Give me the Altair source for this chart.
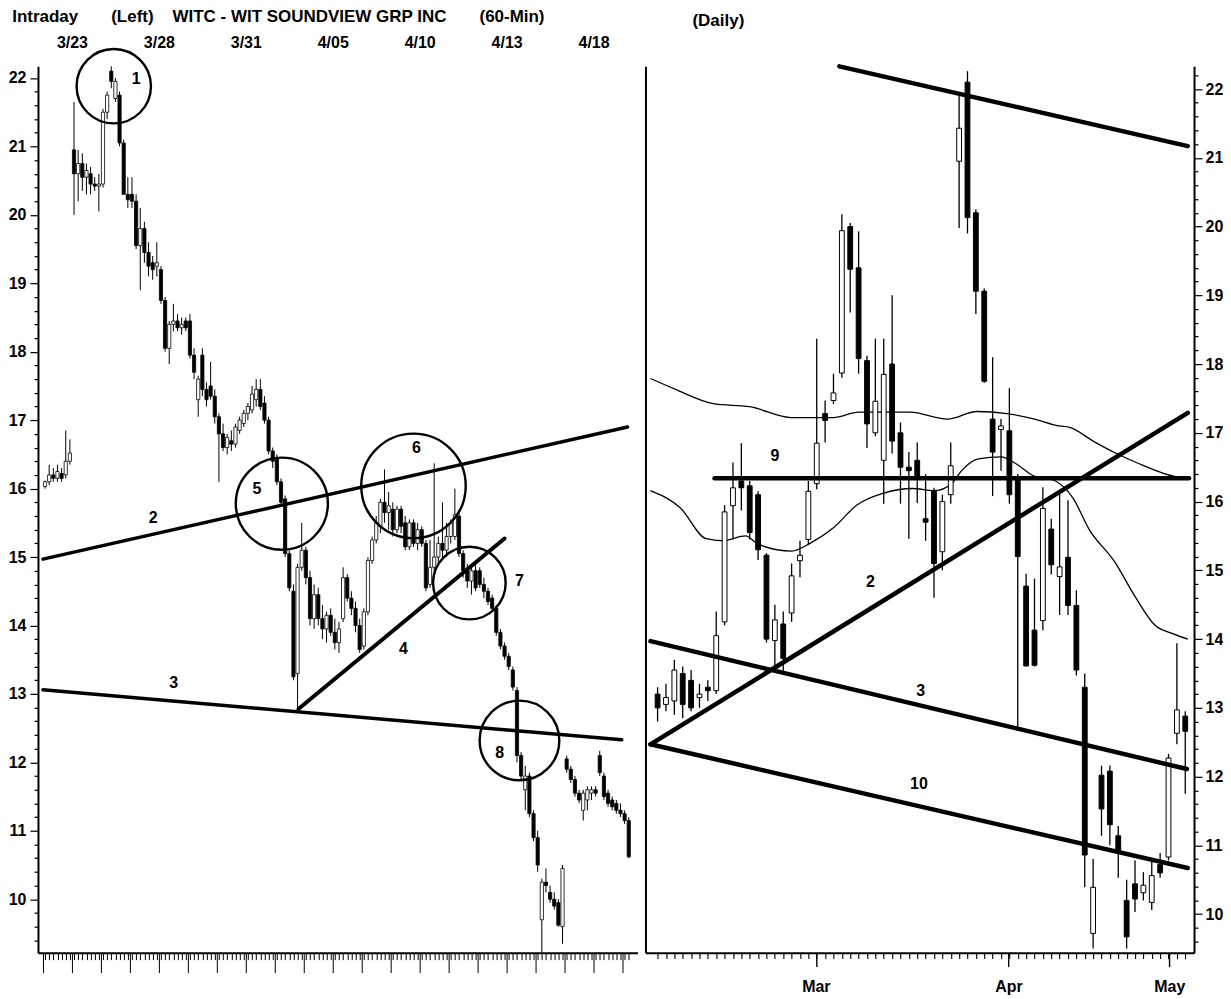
import altair as alt
import pandas as pd

FONT = "Liberation Sans"
NB = "\u00a0"

# ---------------- LEFT PANEL: WITC 60-minute candles (bar index) ----------------
L_OPEN = [16.03, 16.1, 16.2, 16.15, 16.22, 16.2, 16.4,
          20.95, 20.6, 20.75, 20.55, 20.6, 20.45, 20.42,
          20.45, 21.5, 22.1, 21.7, 21.75, 21.05, 20.3,
          20.3, 20.2, 19.55, 19.8, 19.45, 19.3, 19.25,
          19.2, 18.75, 18.05, 18.4, 18.45, 18.35, 18.45,
          18.45, 17.95, 17.3, 17.95, 17.45, 17.5, 17.35,
          17.05, 16.8, 16.6, 16.7, 16.65, 16.85, 16.95,
          17.1, 17.15, 17.3, 17.45, 17.25, 17.0, 16.55,
          16.45, 16.1, 15.85, 15.05, 14.5, 13.3, 14.85,
          15.1, 14.7, 14.1, 14.45, 14.1, 13.95, 14.15,
          13.9, 13.75, 14.1, 14.7, 14.4, 14.25, 14.0,
          13.7, 14.2, 14.95, 15.25, 15.45, 15.8, 15.65,
          15.7, 15.4, 15.7, 15.5, 15.15, 15.5, 15.2,
          15.4, 15.2, 14.6, 14.85, 15.0, 15.2, 15.1,
          15.3, 15.3, 15.6, 15.05, 14.8, 14.65, 14.8,
          14.8, 14.6, 14.5, 14.4, 14.25, 13.9, 13.7,
          13.55, 13.35, 13.05, 12.1, 11.6, 11.8, 11.25,
          10.9, 9.7, 10.25, 10.1, 10.0, 9.95, 9.6,
          12.05, 11.9, 11.75, 11.55, 11.3, 11.45, 11.55,
          11.6, 12.1, 11.8, 11.55, 11.45, 11.4, 11.3,
          11.25, 11.15]
L_HIGH = [16.12, 16.35, 16.3, 16.35, 16.3, 16.85, 16.72,
          21.65, 20.95, 20.9, 20.75, 20.7, 20.55, 20.6,
          21.55, 21.8, 22.17, 22.0, 21.8, 21.1, 20.55,
          20.55, 20.3, 20.1, 19.9, 19.6, 19.4, 19.6,
          19.25, 18.8, 18.45, 18.7, 18.55, 18.5, 18.5,
          18.55, 18.05, 17.65, 18.05, 17.55, 17.85, 17.45,
          17.1, 16.95, 16.8, 16.85, 16.95, 17.05, 17.15,
          17.25, 17.5, 17.6, 17.6, 17.35, 17.05, 16.6,
          16.5, 16.15, 15.9, 15.1, 14.6, 14.9, 15.5,
          15.15, 14.8, 14.6, 14.55, 14.3, 14.2, 14.25,
          14.1, 14.05, 14.85, 14.75, 14.5, 14.35, 14.1,
          14.25, 15.0, 15.3, 15.6, 15.85, 16.28, 15.95,
          15.8, 15.75, 15.75, 15.6, 15.55, 15.55, 15.5,
          15.45, 15.25, 15.25, 16.37, 15.3, 15.8, 15.5,
          15.55, 16.0, 15.65, 15.1, 14.9, 14.85, 14.9,
          14.85, 14.7, 14.55, 14.45, 14.3, 13.95, 13.75,
          13.6, 13.4, 13.1, 12.15, 11.95, 11.85, 11.3,
          11.0, 10.3, 10.45, 10.2, 10.1, 10.0, 10.5,
          12.1, 11.95, 11.8, 11.6, 11.6, 11.65, 11.65,
          11.65, 12.17, 11.85, 11.6, 11.5, 11.45, 11.4,
          11.3, 11.2]
L_LOW = [16.0, 16.05, 16.1, 16.1, 16.1, 16.15, 16.35,
         20.0, 20.2, 20.35, 20.3, 20.3, 20.35, 20.05,
         20.4, 21.4, 21.85, 21.65, 21.0, 20.3, 20.1,
         20.1, 19.5, 18.9, 19.3, 19.1, 19.05, 19.1,
         18.7, 18.0, 17.82, 18.3, 18.3, 18.25, 18.3,
         17.9, 17.6, 17.05, 17.35, 17.2, 17.3, 16.95,
         16.1, 16.55, 16.5, 16.55, 16.6, 16.8, 16.9,
         17.0, 17.1, 17.2, 17.15, 16.95, 16.5, 16.3,
         16.05, 15.75, 15.0, 14.5, 13.2, 12.78, 14.8,
         14.6, 14.0, 13.95, 14.0, 13.8, 13.75, 13.85,
         13.65, 13.6, 14.05, 14.35, 14.15, 13.9, 13.6,
         13.65, 14.15, 14.9, 15.2, 15.35, 15.5, 15.4,
         15.3, 15.35, 15.35, 15.1, 15.1, 15.15, 15.1,
         15.15, 14.5, 14.55, 14.8, 14.9, 15.0, 15.0,
         15.2, 15.25, 15.0, 14.7, 14.55, 14.45, 14.5,
         14.55, 14.4, 14.3, 14.2, 13.85, 13.65, 13.5,
         13.35, 13.05, 12.0, 11.75, 11.3, 11.2, 10.85,
         10.4, 9.22, 10.1, 9.95, 9.85, 9.6, 9.35,
         11.85, 11.7, 11.5, 11.4, 11.15, 11.3, 11.45,
         11.5, 11.8, 11.45, 11.35, 11.3, 11.25, 11.2,
         11.1, 10.6]
L_CLOSE = [16.1, 16.2, 16.15, 16.25, 16.15, 16.4, 16.52,
           20.6, 20.75, 20.55, 20.65, 20.45, 20.42, 20.45,
           21.5, 21.75, 21.95, 21.95, 21.05, 20.3, 20.22,
           20.2, 19.55, 19.8, 19.45, 19.25, 19.2, 19.3,
           18.75, 18.05, 18.4, 18.45, 18.35, 18.4, 18.35,
           17.95, 17.7, 17.6, 17.45, 17.3, 17.35, 17.05,
           16.8, 16.6, 16.75, 16.65, 16.9, 17.0, 17.1,
           17.2, 17.38, 17.45, 17.2, 17.0, 16.55, 16.4,
           16.1, 15.8, 15.05, 14.55, 13.25, 14.85, 15.1,
           14.7, 14.1, 14.45, 14.1, 13.95, 14.15, 13.9,
           13.75, 13.95, 14.7, 14.4, 14.25, 14.0, 13.65,
           14.2, 14.95, 15.25, 15.5, 15.8, 15.65, 15.75,
           15.4, 15.7, 15.45, 15.15, 15.5, 15.2, 15.4,
           15.2, 14.55, 14.85, 15.0, 15.2, 15.1, 15.3,
           15.5, 15.62, 15.05, 14.8, 14.65, 14.8, 14.55,
           14.6, 14.5, 14.35, 14.25, 13.9, 13.7, 13.55,
           13.4, 13.1, 12.1, 11.8, 11.8, 11.25, 10.9,
           10.5, 10.25, 10.2, 10.0, 9.9, 9.62, 10.45,
           11.9, 11.75, 11.55, 11.45, 11.55, 11.6, 11.6,
           11.55, 11.85, 11.5, 11.4, 11.35, 11.3, 11.25,
           11.15, 10.62]

# top-axis date labels, placed at day boundaries (bar index)
L_DAY_TICKS = [6.5, 27.5, 48.5, 69.5, 90.5, 111.5, 132.5]
L_DAY_LABELS = ["3/23", "3/28", "3/31", "4/05", "4/10", "4/13", "4/18"]

# trendlines (bar index, price)
L_LINE_ID = ["2", "2", "3", "3", "4", "4"]
L_LINE_X = [-0.5, 140.7, -0.5, 139.3, 61.2, 111.0]
L_LINE_Y = [14.97, 16.9, 13.06, 12.33, 12.78, 15.27]

# annotation circles (centre in bar index / price)
L_CIRCLE_X = [16.6, 57.2, 89.0, 102.5, 114.6]
L_CIRCLE_Y = [21.88, 15.78, 16.04, 14.62, 12.32]

L_LABEL_TEXT = ["1", "2", "3", "4", "5", "6", "7", "8"]
L_LABEL_X = [22.0, 26.1, 31.1, 86.6, 51.2, 89.7, 114.6, 109.8]
L_LABEL_Y = [21.98, 15.57, 13.16, 13.66, 16.0, 16.6, 14.65, 12.13]

# ---------------- RIGHT PANEL: daily candles (trading-day index) ----------------
R_OPEN = [13.2, 13.05, 13.1, 13.5, 13.4, 13.15, 13.3, 13.25, 14.25, 15.94,
          16.3, 16.23, 16.1, 15.22, 13.98, 14.22, 14.38, 15.14, 15.45, 16.26,
          17.28, 17.47, 17.87, 20.0, 19.4, 18.05, 17.0, 16.6, 18.0, 17.0,
          16.5, 16.6, 15.75, 16.15, 15.27, 16.1, 20.95, 22.1, 20.2, 19.06,
          17.2, 17.05, 17.03, 16.35, 14.77, 14.13, 14.27, 15.6, 14.91, 15.19,
          14.49, 13.3, 9.72, 12.02, 12.08, 11.14, 10.2, 10.44, 10.31, 10.17,
          10.72, 10.83, 12.63, 12.88]
R_HIGH = [13.3, 13.35, 13.7, 13.6, 13.55, 13.35, 13.4, 14.4, 15.95, 16.57,
          16.85, 16.3, 16.15, 15.25, 14.5, 14.4, 15.1, 15.43, 16.3, 18.37,
          17.47, 17.86, 20.18, 20.05, 19.93, 18.12, 18.37, 18.37, 19.0, 17.15,
          16.72, 16.86, 16.4, 16.2, 16.1, 16.86, 21.95, 22.26, 20.25, 19.1,
          18.1, 17.2, 17.65, 16.4, 14.95, 14.88, 16.21, 15.75, 16.16, 16.02,
          14.71, 13.5, 10.8, 12.16, 12.16, 11.28, 10.5, 10.78, 10.61, 10.78,
          10.89, 12.33, 13.94, 12.95]
R_LOW = [12.8, 12.95, 12.9, 12.85, 12.95, 13.0, 13.1, 13.2, 14.2, 15.45,
         15.87, 15.45, 15.15, 13.95, 13.6, 13.5, 14.25, 14.9, 15.38, 16.18,
         16.86, 17.42, 17.8, 18.75, 17.86, 16.78, 16.95, 15.97, 16.7, 15.97,
         15.46, 15.98, 15.43, 14.6, 15.0, 15.97, 19.98, 19.9, 18.73, 17.73,
         16.08, 16.45, 15.97, 12.72, 13.6, 13.6, 14.13, 14.94, 14.35, 14.35,
         13.47, 10.39, 9.5, 11.14, 11.0, 10.53, 9.5, 10.03, 10.2, 10.06,
         10.53, 10.78, 12.47, 11.75]
R_CLOSE = [13.0, 13.15, 13.55, 13.05, 13.0, 13.2, 13.25, 14.05, 15.85, 16.2,
           16.2, 15.55, 15.3, 14.0, 14.28, 13.72, 14.92, 15.22, 16.15, 16.85,
           17.18, 17.58, 19.94, 19.38, 18.08, 17.13, 17.46, 17.85, 16.88, 16.5,
           16.45, 16.35, 15.7, 15.1, 16.0, 16.52, 21.43, 20.13, 19.06, 17.75,
           16.72, 17.1, 16.1, 15.2, 13.61, 13.62, 15.9, 15.08, 15.05, 14.49,
           13.55, 10.86, 10.39, 11.53, 11.3, 10.89, 9.67, 10.22, 10.42, 10.56,
           10.6, 12.27, 12.97, 12.66]

R_MONTH_TICKS = [18.9, 41.9, 61.1]
R_MONTH_LABELS = ["Mar", "Apr", "May"]

# moving averages (day index, price)
R_MA1_X = [-0.85, 2, 6.8, 11, 16, 21, 24, 30.1, 34.6, 38.1, 41.7, 45, 47.9, 49.2,
           52, 54.6, 57.5, 60.4, 63.3]
R_MA1_Y = [17.79, 17.64, 17.42, 17.38, 17.22, 17.22, 17.3, 17.3, 17.2, 17.31, 17.28,
           17.2, 17.1, 17.08, 16.88, 16.71, 16.55, 16.41, 16.32]
R_MA2_X = [-0.85, 2.7, 5.8, 7.8, 10.5, 12, 16, 18.3, 21, 23.8, 26.9, 30.4, 33.1,
           35.1, 36.3, 38.3, 41, 42.8, 44.8, 47.5, 49.6, 51.5, 54.6, 57, 59.4,
           61.5, 63.3]
R_MA2_Y = [16.16, 15.91, 15.46, 15.43, 15.5, 15.38, 15.28, 15.4, 15.62, 15.95,
           16.12, 16.19, 16.16, 16.26, 16.45, 16.62, 16.65, 16.55, 16.38, 16.3,
           16.05, 15.6, 15.12, 14.62, 14.2, 14.08, 14.0]

# trendlines (day index, price)
R_LINE_ID = ["top", "top", "2", "2", "3", "3", "10", "10", "9", "9"]
R_LINE_X = [21.7, 63.3, -0.85, 63.3, -0.85, 63.2, -0.85, 63.3, 6.8, 63.45]
R_LINE_Y = [22.33, 21.17, 12.47, 17.29, 13.97, 12.11, 12.47, 10.67, 16.34, 16.34]

R_LABEL_TEXT = ["9", "2", "3", "10"]
R_LABEL_X = [14.0, 25.4, 31.4, 31.2]
R_LABEL_Y = [16.66, 14.83, 13.25, 11.89]

# ---------------- styles ----------------
CIRCLE_RADIUS_PX = [42, 52, 59, 41, 45]
L_LINE_WIDTH = [3.5, 3.5, 3.5, 3.5, 4.0, 4.0]
L_W, R_W, H = 600, 549, 887

LX = alt.Scale(domain=[-0.5, 141.9], nice=False, zero=False)
LY = alt.Scale(domain=[9.22, 22.17], nice=False, zero=False)
RX = alt.Scale(domain=[-0.85, 63.45], nice=False, zero=False)
RY = alt.Scale(domain=[9.44, 22.33], nice=False, zero=False)

MAJOR = "abs(datum.value - round(datum.value)) < 0.01"

ly_vals = [round(9.4 + 0.2 * i, 1) for i in range(64)]
ry_vals = [round(9.6 + 0.2 * i, 1) for i in range(64)]
lx_vals = [float(i) for i in range(len(L_OPEN))] + [7 * d - 0.5 for d in range(0, 21)]
rx_vals = [float(i) for i in range(len(R_OPEN))]


def y_axis(vals, orient, pad):
    return alt.Axis(values=vals, orient=orient, title=None, grid=False,
                    tickSize={"condition": {"test": MAJOR, "value": 8}, "value": 4},
                    labelExpr=f"{MAJOR} ? format(datum.value, 'd') : ''",
                    labelFont=FONT, labelFontSize=16, labelFontWeight="bold", labelColor="black",
                    labelPadding=pad, labelOverlap=False, labelFlush=False,
                    domainColor="black", domainWidth=2, tickColor="black", tickWidth=1.2)


def lookup_expr(ticks, labels):
    return ("[" + ",".join(f"'{s}'" for s in labels) + "][indexof(["
            + ",".join(str(v) for v in ticks) + "], datum.value)]")


left_x_axis = alt.Axis(values=lx_vals, orient="bottom", title=None, grid=False, labels=False,
                       tickSize={"condition": {"test": "datum.value % 1 != 0", "value": 20}, "value": 7},
                       domainColor="black", domainWidth=2, tickColor="black", tickWidth=1)

top_axis = alt.Axis(values=L_DAY_TICKS, orient="top", title=None, grid=False, ticks=False,
                    tickSize=0, domain=False, labelExpr=lookup_expr(L_DAY_TICKS, L_DAY_LABELS),
                    labelFont=FONT, labelFontSize=16, labelFontWeight="bold", labelColor="black",
                    labelPadding=16, labelOverlap=False, labelFlush=False)

right_x_axis = alt.Axis(values=rx_vals, orient="bottom", title=None, grid=False, labels=False,
                        tickSize=6, domainColor="black", domainWidth=2, tickColor="black",
                        tickWidth=1.1)

month_axis = alt.Axis(values=R_MONTH_TICKS, orient="bottom", title=None, grid=False,
                      domain=False, tickSize=14, tickColor="black", tickWidth=1.4,
                      labelExpr=lookup_expr(R_MONTH_TICKS, R_MONTH_LABELS),
                      labelFont=FONT, labelFontSize=16, labelFontWeight="bold", labelColor="black",
                      labelPadding=12, labelOverlap=False, labelFlush=False)

# ---------------- data frames ----------------
left_df = pd.DataFrame({"bar": range(len(L_OPEN)), "open": L_OPEN, "high": L_HIGH,
                        "low": L_LOW, "close": L_CLOSE})
right_df = pd.DataFrame({"day": range(len(R_OPEN)), "open": R_OPEN, "high": R_HIGH,
                         "low": R_LOW, "close": R_CLOSE})
l_lines = pd.DataFrame({"id": L_LINE_ID, "x": L_LINE_X, "y": L_LINE_Y, "w": L_LINE_WIDTH})
l_circles = pd.DataFrame({"x": L_CIRCLE_X, "y": L_CIRCLE_Y,
                          "size": [3.14159 * r * r for r in CIRCLE_RADIUS_PX]})
l_labels = pd.DataFrame({"x": L_LABEL_X, "y": L_LABEL_Y, "t": L_LABEL_TEXT})
l_dates = pd.DataFrame({"x": L_DAY_TICKS})
l_edge = pd.DataFrame({"y": [9.22]})
r_lines = pd.DataFrame({"id": R_LINE_ID, "x": R_LINE_X, "y": R_LINE_Y})
r_ma = pd.DataFrame({"id": ["a"] * len(R_MA1_X) + ["b"] * len(R_MA2_X),
                     "x": R_MA1_X + R_MA2_X, "y": R_MA1_Y + R_MA2_Y})
r_labels = pd.DataFrame({"x": R_LABEL_X, "y": R_LABEL_Y, "t": R_LABEL_TEXT})
r_border = pd.DataFrame({"y": [9.44]})
r_month_df = pd.DataFrame({"x": R_MONTH_TICKS})

up_fill = alt.condition("datum.close >= datum.open", alt.value("white"), alt.value("black"))

# ---------------- left chart ----------------
l_wick = alt.Chart(left_df).mark_rule(color="black", strokeWidth=1).encode(
    x=alt.X("bar:Q", scale=LX, axis=left_x_axis),
    y=alt.Y("low:Q", scale=LY, axis=None),
    y2="high:Q")
l_body = alt.Chart(left_df).mark_bar(width=3.2, stroke="black", strokeWidth=0.8).encode(
    x=alt.X("bar:Q", scale=LX, axis=None),
    y=alt.Y("open:Q", scale=LY, axis=None), y2="close:Q", fill=up_fill)
l_trend = alt.Chart(l_lines).mark_line(color="black", strokeCap="round").encode(
    x=alt.X("x:Q", scale=LX, axis=None), y=alt.Y("y:Q", scale=LY, axis=None),
    detail="id:N", strokeWidth=alt.StrokeWidth("w:Q", scale=None, legend=None))
l_circ = alt.Chart(l_circles).mark_point(shape="circle", filled=False, color="black",
                                          strokeWidth=2.4, opacity=1).encode(
    x=alt.X("x:Q", scale=LX, axis=None), y=alt.Y("y:Q", scale=LY, axis=None),
    size=alt.Size("size:Q", scale=None, legend=None))
l_text = alt.Chart(l_labels).mark_text(font=FONT, fontSize=16, fontWeight="bold", color="black").encode(
    x=alt.X("x:Q", scale=LX, axis=None), y=alt.Y("y:Q", scale=LY, axis=None), text="t:N")
l_top = alt.Chart(l_dates).mark_point(opacity=0).encode(
    x=alt.X("x:Q", scale=LX, axis=top_axis))
l_yax = alt.Chart(l_edge).mark_point(opacity=0).encode(
    y=alt.Y("y:Q", scale=LY, axis=y_axis(ly_vals, "left", 4)))

left_title = ("Intraday" + NB * 7 + "(Left)" + NB * 4 + "WITC - WIT SOUNDVIEW GRP INC"
              + NB * 7 + "(60-Min)")
left = alt.layer(l_wick, l_body, l_trend, l_circ, l_text, l_top, l_yax).properties(
    width=L_W, height=H,
    title=alt.TitleParams(left_title, anchor="start", frame="bounds", dx=4, offset=8,
                          font=FONT, fontSize=17, fontWeight="bold", color="black")
).resolve_axis(x="independent", y="independent")

# ---------------- right chart ----------------
r_wick = alt.Chart(right_df).mark_rule(color="black", strokeWidth=1.3).encode(
    x=alt.X("day:Q", scale=RX, axis=right_x_axis),
    y=alt.Y("low:Q", scale=RY, axis=y_axis(ry_vals, "right", 3)),
    y2="high:Q")
r_body = alt.Chart(right_df).mark_bar(width=4.8, stroke="black", strokeWidth=1).encode(
    x=alt.X("day:Q", scale=RX, axis=None),
    y=alt.Y("open:Q", scale=RY, axis=None), y2="close:Q", fill=up_fill)
r_mav = alt.Chart(r_ma).mark_line(color="black", strokeWidth=1.3, interpolate="monotone").encode(
    x=alt.X("x:Q", scale=RX, axis=None), y=alt.Y("y:Q", scale=RY, axis=None), detail="id:N")
r_trend = alt.Chart(r_lines).mark_line(color="black", strokeWidth=4.5, strokeCap="round").encode(
    x=alt.X("x:Q", scale=RX, axis=None), y=alt.Y("y:Q", scale=RY, axis=None), detail="id:N")
r_text = alt.Chart(r_labels).mark_text(font=FONT, fontSize=16, fontWeight="bold", color="black").encode(
    x=alt.X("x:Q", scale=RX, axis=None), y=alt.Y("y:Q", scale=RY, axis=None), text="t:N")
r_edge = alt.Chart(r_border).mark_point(opacity=0).encode(
    y=alt.Y("y:Q", scale=RY, axis=alt.Axis(orient="left", labels=False, ticks=False, title=None,
                                            grid=False, domainColor="black", domainWidth=2)))
r_month = alt.Chart(r_month_df).mark_point(opacity=0).encode(
    x=alt.X("x:Q", scale=RX, axis=month_axis))

right = alt.layer(r_mav, r_wick, r_body, r_trend, r_text, r_edge, r_month).properties(
    width=R_W, height=H,
    title=alt.TitleParams("(Daily)", anchor="start", frame="group", dx=47, offset=27,
                          font=FONT, fontSize=17, fontWeight="bold", color="black")
).resolve_axis(x="independent", y="independent")

chart = alt.hconcat(left, right, spacing=8, bounds="flush").configure_view(
    stroke=None).properties(background="white", padding=0)

chart.save("out.html", embed_options={"renderer": "svg", "actions": False})
